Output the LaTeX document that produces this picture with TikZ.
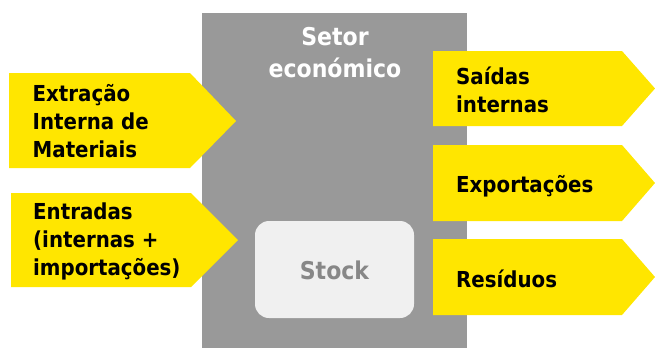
\documentclass[tikz,border=0pt]{standalone}
\usepackage{fontspec}
\setmainfont{DejaVu Sans Condensed}[BoldFont={DejaVu Sans Condensed Bold}]
\definecolor{eyyellow}{HTML}{FFE600}
\definecolor{sectorgray}{HTML}{999999}
\definecolor{stockfill}{HTML}{F0F0F0}
\definecolor{stocktext}{HTML}{878787}
\begin{document}
\begin{tikzpicture}[x=1pt,y=-1pt,
  arrowshape/.style={fill=eyyellow,draw=none},
  lbl/.style={inner sep=0pt,anchor=base west,align=left,font=\fontsize{22}{28}\selectfont\bfseries,text=black},
  sectorlbl/.style={inner sep=0pt,anchor=base,align=center,font=\fontsize{24.5}{32}\selectfont\bfseries,text=white}]
\useasboundingbox (0,0) rectangle (655,348);
% sector
\fill[sectorgray] (202,13) rectangle (467,348);
\node[sectorlbl] (sector) at (335,77) {Setor\\económico};
% stock
\node[fill=stockfill,rounded corners=14pt,minimum width=159pt,minimum height=97pt,inner sep=0pt] (stock) at (334.5,269.5) {};
\node[inner sep=0pt,anchor=base,font=\fontsize{24.5}{24}\selectfont\bfseries,text=stocktext] (stocklbl) at (stock.center |- 0,279) {Stock};
% left arrows
\fill[arrowshape] (9,73) -- (190,73) -- (236,121) -- (190,168) -- (9,168) -- cycle;
\node[lbl] (extr) at (32.5,157) {Extração\\Interna de\\Materiais};
\fill[arrowshape] (11,193) -- (191,193) -- (238,240) -- (191,287) -- (11,287) -- cycle;
\node[lbl] (entr) at (33,275) {Entradas\\(internas +\\importações)};
% right arrows
\fill[arrowshape] (433,51) -- (622,51) -- (655,88.5) -- (622,126) -- (433,126) -- cycle;
\node[lbl] (said) at (456,112) {Saídas\\internas};
\fill[arrowshape] (433,145) -- (622,145) -- (655,183) -- (622,221) -- (433,221) -- cycle;
\node[lbl] (expo) at (456,192) {Exportações};
\fill[arrowshape] (433,239) -- (622,239) -- (655,277) -- (622,315) -- (433,315) -- cycle;
\node[lbl] (resi) at (456,287) {Resíduos};
\end{tikzpicture}
\end{document}
